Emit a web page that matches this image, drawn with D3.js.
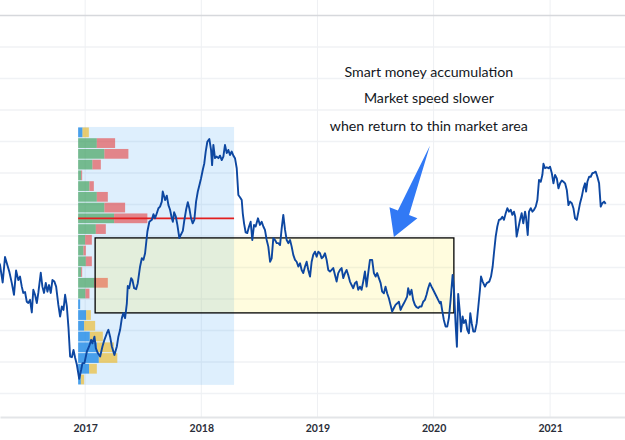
<!DOCTYPE html>
<html>
<head>
<meta charset="utf-8">
<script src="https://cdn.jsdelivr.net/npm/d3@7"></script>
<style>
  html, body { margin: 0; padding: 0; background: #fff; }
  #chart svg { display: block; }
</style>
</head>
<body>
<div id="chart"></div>
<script>
// weekly closes: [decimal year, price]
const priceSeries = [
  [2016.255, 5.20], [2016.269, 5.08], [2016.292, 4.52], [2016.312, 5.33], [2016.332, 5.08], [2016.349, 4.86],
  [2016.370, 4.51], [2016.389, 4.13], [2016.407, 4.90], [2016.426, 4.60], [2016.441, 4.71], [2016.456, 4.39],
  [2016.469, 4.19], [2016.484, 4.22], [2016.499, 3.91], [2016.512, 3.87], [2016.527, 3.97], [2016.542, 3.57],
  [2016.555, 4.29], [2016.570, 4.13], [2016.585, 3.87], [2016.598, 4.19], [2016.619, 4.83], [2016.633, 4.39],
  [2016.647, 4.19], [2016.662, 4.51], [2016.676, 4.23], [2016.690, 4.44], [2016.705, 4.19], [2016.719, 4.60],
  [2016.736, 4.55], [2016.751, 4.39], [2016.770, 3.81], [2016.785, 3.44], [2016.800, 3.76], [2016.814, 3.65],
  [2016.828, 4.13], [2016.843, 3.76], [2016.857, 3.08], [2016.871, 2.17], [2016.886, 2.15], [2016.900, 2.38],
  [2016.914, 2.13], [2016.929, 1.91], [2016.949, 1.46], [2016.966, 1.75], [2016.977, 1.96], [2016.994, 1.96],
  [2017.015, 2.33], [2017.034, 2.49], [2017.052, 2.70], [2017.063, 2.59], [2017.080, 2.80], [2017.092, 2.44],
  [2017.109, 2.28], [2017.129, 2.17], [2017.149, 2.49], [2017.166, 2.70], [2017.187, 2.91], [2017.200, 3.02],
  [2017.215, 2.80], [2017.230, 2.49], [2017.252, 2.22], [2017.273, 2.49], [2017.286, 2.80], [2017.301, 3.02],
  [2017.316, 3.39], [2017.329, 3.55], [2017.344, 3.39], [2017.359, 3.86], [2017.367, 4.41], [2017.379, 4.34],
  [2017.396, 4.66], [2017.407, 4.60], [2017.422, 4.34], [2017.439, 4.31], [2017.453, 4.50], [2017.473, 5.03],
  [2017.488, 5.29], [2017.502, 5.24], [2017.516, 5.45], [2017.536, 6.14], [2017.553, 6.45], [2017.574, 6.51],
  [2017.588, 6.69], [2017.602, 6.56], [2017.617, 6.72], [2017.631, 6.88], [2017.645, 6.93], [2017.660, 7.09],
  [2017.668, 7.41], [2017.680, 7.25], [2017.688, 7.14], [2017.703, 7.28], [2017.717, 6.98], [2017.731, 6.83],
  [2017.746, 6.56], [2017.755, 6.45], [2017.766, 6.75], [2017.781, 6.61], [2017.794, 6.35], [2017.811, 5.93],
  [2017.823, 6.03], [2017.841, 6.16], [2017.852, 6.45], [2017.869, 6.83], [2017.884, 7.07], [2017.897, 6.88],
  [2017.912, 6.56], [2017.926, 6.40], [2017.940, 6.51], [2017.955, 7.09], [2017.970, 7.41], [2017.983, 7.60],
  [2017.998, 7.83], [2018.013, 8.10], [2018.026, 8.31], [2018.038, 8.68], [2018.052, 8.99], [2018.069, 9.08],
  [2018.084, 8.73], [2018.093, 8.25], [2018.104, 8.89], [2018.118, 8.47], [2018.133, 8.52], [2018.147, 8.47],
  [2018.161, 8.55], [2018.176, 8.41], [2018.190, 8.52], [2018.204, 8.89], [2018.219, 8.63], [2018.233, 8.73],
  [2018.247, 8.57], [2018.262, 8.68], [2018.276, 8.55], [2018.290, 8.47], [2018.305, 8.15], [2018.319, 7.30],
  [2018.333, 7.23], [2018.348, 7.14], [2018.357, 6.72], [2018.368, 6.40], [2018.382, 6.11], [2018.396, 6.09],
  [2018.411, 6.30], [2018.425, 6.45], [2018.439, 5.87], [2018.454, 6.35], [2018.468, 6.30], [2018.488, 6.56],
  [2018.505, 6.35], [2018.520, 6.45], [2018.534, 6.30], [2018.548, 6.19], [2018.563, 5.87], [2018.577, 5.66],
  [2018.592, 5.18], [2018.606, 5.29], [2018.620, 5.93], [2018.635, 5.87], [2018.649, 5.77], [2018.663, 5.77],
  [2018.678, 5.71], [2018.692, 6.24], [2018.706, 6.67], [2018.721, 6.19], [2018.735, 5.87], [2018.749, 5.77],
  [2018.764, 5.87], [2018.778, 5.66], [2018.792, 5.40], [2018.807, 5.24], [2018.821, 5.18], [2018.835, 5.03],
  [2018.850, 5.13], [2018.864, 4.92], [2018.878, 4.82], [2018.893, 5.03], [2018.907, 5.18], [2018.921, 4.92],
  [2018.936, 4.71], [2018.950, 5.18], [2018.964, 5.40], [2018.979, 5.50], [2018.993, 5.34], [2019.007, 5.50],
  [2019.022, 5.45], [2019.036, 5.29], [2019.050, 5.34], [2019.065, 5.45], [2019.079, 5.24], [2019.093, 4.92],
  [2019.108, 4.87], [2019.122, 4.92], [2019.136, 4.98], [2019.151, 4.76], [2019.165, 4.55], [2019.179, 4.82],
  [2019.194, 4.92], [2019.208, 4.98], [2019.222, 4.66], [2019.237, 4.82], [2019.251, 4.92], [2019.265, 4.76],
  [2019.280, 4.55], [2019.294, 4.44], [2019.308, 4.34], [2019.323, 4.50], [2019.337, 4.55], [2019.351, 4.29],
  [2019.366, 4.39], [2019.380, 4.29], [2019.394, 4.55], [2019.409, 4.87], [2019.423, 4.39], [2019.437, 4.82],
  [2019.452, 5.24], [2019.471, 5.24], [2019.486, 4.82], [2019.501, 4.71], [2019.514, 4.82], [2019.529, 4.66],
  [2019.544, 4.50], [2019.557, 4.23], [2019.572, 4.18], [2019.586, 4.39], [2019.600, 4.18], [2019.615, 4.02],
  [2019.629, 3.81], [2019.643, 3.60], [2019.658, 3.71], [2019.672, 3.81], [2019.687, 3.86], [2019.701, 3.91],
  [2019.716, 3.65], [2019.729, 3.76], [2019.744, 3.86], [2019.759, 3.97], [2019.772, 4.07], [2019.781, 4.34],
  [2019.796, 4.13], [2019.810, 4.29], [2019.824, 3.97], [2019.839, 3.81], [2019.853, 3.74], [2019.867, 3.71],
  [2019.882, 3.76], [2019.896, 3.76], [2019.910, 3.91], [2019.925, 3.97], [2019.939, 4.13], [2019.953, 4.34],
  [2019.968, 4.50], [2019.982, 4.39], [2019.996, 4.29], [2020.011, 4.18], [2020.026, 4.07], [2020.039, 3.97],
  [2020.054, 3.86], [2020.062, 3.91], [2020.073, 3.65], [2020.088, 3.33], [2020.103, 3.12], [2020.117, 3.12],
  [2020.131, 3.39], [2020.146, 3.97], [2020.163, 4.76], [2020.175, 4.29], [2020.189, 3.18], [2020.200, 2.48],
  [2020.211, 4.16], [2020.226, 3.55], [2020.235, 2.96], [2020.249, 3.44], [2020.260, 3.23], [2020.275, 3.33],
  [2020.289, 3.02], [2020.303, 2.91], [2020.315, 3.55], [2020.327, 3.23], [2020.341, 2.96], [2020.355, 2.96],
  [2020.370, 3.23], [2020.384, 3.76], [2020.398, 4.29], [2020.407, 4.71], [2020.421, 4.55], [2020.441, 4.39],
  [2020.456, 4.50], [2020.478, 4.55], [2020.493, 4.71], [2020.507, 5.03], [2020.518, 5.45], [2020.533, 5.98],
  [2020.547, 6.30], [2020.561, 6.51], [2020.576, 6.53], [2020.590, 6.61], [2020.604, 6.51], [2020.619, 6.72],
  [2020.633, 6.88], [2020.647, 6.77], [2020.662, 6.83], [2020.676, 6.67], [2020.690, 6.77], [2020.701, 6.61],
  [2020.713, 5.98], [2020.727, 6.24], [2020.742, 6.51], [2020.756, 6.72], [2020.770, 6.40], [2020.785, 6.77],
  [2020.793, 6.61], [2020.808, 6.03], [2020.819, 6.77], [2020.834, 6.88], [2020.848, 6.77], [2020.862, 6.83],
  [2020.877, 6.93], [2020.891, 7.14], [2020.905, 7.78], [2020.920, 7.72], [2020.934, 7.94], [2020.943, 8.29],
  [2020.957, 8.15], [2020.972, 8.18], [2020.986, 8.15], [2021.000, 8.20], [2021.015, 7.99], [2021.029, 7.67],
  [2021.043, 7.94], [2021.058, 7.83], [2021.072, 7.51], [2021.086, 7.67], [2021.101, 7.76], [2021.115, 7.72],
  [2021.129, 7.67], [2021.144, 7.46], [2021.158, 6.98], [2021.172, 7.09], [2021.187, 7.04], [2021.201, 6.88],
  [2021.215, 6.56], [2021.230, 6.51], [2021.244, 6.77], [2021.258, 7.04], [2021.273, 7.25], [2021.287, 7.51],
  [2021.301, 7.67], [2021.310, 7.41], [2021.321, 7.72], [2021.336, 7.88], [2021.350, 7.88], [2021.364, 7.99],
  [2021.379, 8.01], [2021.393, 8.04], [2021.407, 7.88], [2021.422, 7.67], [2021.436, 6.93], [2021.450, 7.04],
  [2021.465, 7.09], [2021.479, 7.02]
];

// fixed range volume profile (rows from bottom to top)
const profileRange = [2016.940, 2018.282];
const profilePrice = [1.27, 9.46];
const upVolume   = [2.7, 11, 20.7, 18.7, 11.7, 6, 8, 2, 7.3, 16, 3, 7.7, 5.3, 7, 17.7, 36, 26.3, 18.7, 11.3, 3, 14.3, 26.3, 18.7, 4.4];
const downVolume = [3.3, 7.7, 18.5, 17, 13, 11, 4.7, 0, 4, 13.7, 1, 6, 2.4, 6.7, 10, 33.3, 20.7, 11, 4.4, 1, 8.4, 24, 18.3, 6.3];
const valueArea = [8, 22];   // row indexes
const pocRow = 15;

// annotations
const zoneTime = [2017.086, 2020.174];
const zonePrice = [3.556, 5.937];
const arrowTail = [2019.968, 8.86];
const arrowTip = [2019.658, 5.97];
const noteLines = ["Smart money accumulation", "Market speed slower", "when return to thin market area"];
const noteAnchor = [2019.959, [11.05, 10.21, 9.33]];

const years = [2017, 2018, 2019, 2020, 2021];
const viewTime = [2016.269, 2021.645];
const viewPrice = [0.25, 13];

const W = 625, H = 440;

function decDate(t) {
  const yr = Math.floor(t);
  const a = new Date(yr, 0, 1), b = new Date(yr + 1, 0, 1);
  return new Date(+a + (t - yr) * (b - a));
}

const x = d3.scaleTime().domain(viewTime.map(decDate)).range([0, W]);
const y = d3.scaleLinear().domain(viewPrice).range([417, 15.5]);

const svg = d3.select("#chart").append("svg")
  .attr("width", W).attr("height", H);

// grid
svg.append("g").selectAll("line").data(d3.range(1, 13)).join("line")
  .attr("x1", 0).attr("x2", W)
  .attr("y1", d => y(d)).attr("y2", d => y(d))
  .attr("stroke", "#f0f2f5").attr("stroke-width", 1.5);

svg.append("g").selectAll("line").data(years).join("line")
  .attr("x1", d => x(new Date(d, 0, 1))).attr("x2", d => x(new Date(d, 0, 1)))
  .attr("y1", 0).attr("y2", 417)
  .attr("stroke", "#eef0f3").attr("stroke-width", 1);

svg.append("line")
  .attr("x1", 0).attr("x2", W).attr("y1", y(13)).attr("y2", y(13))
  .attr("stroke", "#d6d8dc").attr("stroke-width", 1.6);

// time axis
const xAxis = svg.append("g")
  .attr("transform", "translate(0,417)")
  .call(d3.axisBottom(x)
    .tickValues(years.map(d => new Date(d, 0, 1)))
    .tickFormat(d3.timeFormat("%Y"))
    .tickSize(0).tickPadding(8));
xAxis.select(".domain").attr("stroke", "#e3e5e8").attr("stroke-width", 1.8);
xAxis.selectAll("text")
  .attr("font-family", "Lato, 'Open Sans', sans-serif")
  .attr("font-size", 10.5).attr("font-weight", 700).attr("fill", "#2a2e39");

// profile background
const px0 = x(decDate(profileRange[0])), px1 = x(decDate(profileRange[1]));
svg.append("rect")
  .attr("x", px0).attr("width", px1 - px0)
  .attr("y", y(profilePrice[1])).attr("height", y(profilePrice[0]) - y(profilePrice[1]))
  .attr("fill", "rgba(33,150,243,0.15)");

// profile rows
const rowStep = (profilePrice[1] - profilePrice[0]) / upVolume.length;
const rows = upVolume.map((u, i) => ({
  i, up: u, down: downVolume[i],
  lo: profilePrice[0] + i * rowStep, hi: profilePrice[0] + (i + 1) * rowStep,
  inVA: i >= valueArea[0] && i <= valueArea[1]
}));
const vol = d3.scaleLinear()
  .domain([0, d3.max(rows, d => d.up + d.down)])
  .range([0, 0.444 * (px1 - px0)]);

const rowG = svg.append("g").selectAll("g").data(rows).join("g");
rowG.append("rect")
  .attr("x", px0).attr("width", d => vol(d.up))
  .attr("y", d => y(d.hi) + 0.5).attr("height", d => y(d.lo) - y(d.hi) - 1)
  .attr("fill", d => d.inVA ? "rgba(67,160,90,0.68)" : "rgba(30,136,229,0.78)");
rowG.append("rect")
  .attr("x", d => px0 + vol(d.up)).attr("width", d => vol(d.down))
  .attr("y", d => y(d.hi) + 0.5).attr("height", d => y(d.lo) - y(d.hi) - 1)
  .attr("fill", d => d.inVA ? "rgba(229,83,83,0.68)" : "rgba(235,190,60,0.72)");

// point of control
const pocPrice = (rows[pocRow].lo + rows[pocRow].hi) / 2;
svg.append("line")
  .attr("x1", px0).attr("x2", px1)
  .attr("y1", y(pocPrice)).attr("y2", y(pocPrice))
  .attr("stroke", "#e21f1f").attr("stroke-width", 1.8);

// thin market zone
svg.append("rect")
  .attr("x", x(decDate(zoneTime[0])))
  .attr("width", x(decDate(zoneTime[1])) - x(decDate(zoneTime[0])))
  .attr("y", y(zonePrice[1]))
  .attr("height", y(zonePrice[0]) - y(zonePrice[1]))
  .attr("fill", "rgba(255,235,59,0.17)")
  .attr("stroke", "#000").attr("stroke-width", 1.3);

// price line
const line = d3.line()
  .x(d => x(decDate(d[0])))
  .y(d => y(d[1]));
svg.append("path")
  .datum(priceSeries)
  .attr("d", line)
  .attr("fill", "none")
  .attr("stroke", "#0d47a1")
  .attr("stroke-width", 1.9)
  .attr("stroke-linejoin", "round");

// arrow
const tx = x(decDate(arrowTail[0])), ty = y(arrowTail[1]);
const hx = x(decDate(arrowTip[0])), hy = y(arrowTip[1]);
const len = Math.hypot(hx - tx, hy - ty);
const ux = (hx - tx) / len, uy = (hy - ty) / len;
const nx = -uy, ny = ux;
const headLen = 26, headHalf = 15, shaftHalf = 6;
const bx = hx - ux * headLen, by = hy - uy * headLen;
const arrowPts = [
  [tx, ty],
  [bx + nx * shaftHalf, by + ny * shaftHalf],
  [bx + nx * headHalf, by + ny * headHalf],
  [hx, hy],
  [bx - nx * headHalf, by - ny * headHalf],
  [bx - nx * shaftHalf, by - ny * shaftHalf]
];
svg.append("path")
  .attr("d", d3.line()(arrowPts) + "Z")
  .attr("fill", "#3179f5");

// note
svg.append("g").selectAll("text").data(noteLines).join("text")
  .attr("x", x(decDate(noteAnchor[0])))
  .attr("y", (d, i) => y(noteAnchor[1][i]))
  .attr("text-anchor", "middle")
  .attr("font-family", "Lato, 'Open Sans', sans-serif")
  .attr("font-size", 14.2)
  .attr("fill", "#131722")
  .text(d => d);
</script>
</body>
</html>
